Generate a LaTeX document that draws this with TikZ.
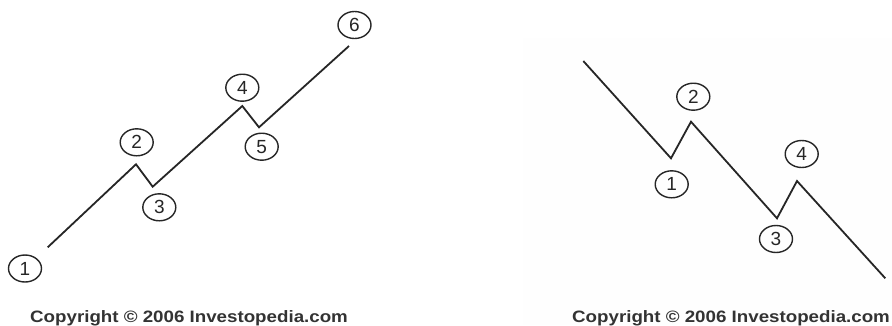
\documentclass[tikz,border=0pt]{standalone}
\usepackage{fontspec}
\setmainfont{Liberation Sans}
\usetikzlibrary{shapes.geometric}
\tikzset{
  wave/.style={line width=1.8pt, color=black!85, line join=miter},
  wavenum/.style={draw, ellipse, line width=1.4pt, color=black!85, minimum width=33pt, minimum height=27pt, inner sep=0pt, font=\fontsize{19}{19}\selectfont},
  copyr/.style={color=black!80, font=\fontsize{16.5}{16.5}\selectfont\bfseries, inner sep=0pt, anchor=base west}
}

\begin{document}
\begin{tikzpicture}[x=1pt, y=-1pt]
			%%%%% START %%%%%
			\useasboundingbox (0, 0) rectangle (892, 325);
			\fill[white] (0, 0) rectangle (892, 325);
			\fill[black!0.5] (523, 38) rectangle (892, 325);
			
			% up trend
			\coordinate (u1) at (47.7, 247.3);
			\coordinate (u2) at (136, 164.3);
			\coordinate (u3) at (152.7, 186.7);
			\coordinate (u4) at (242.3, 106);
			\coordinate (u5) at (259, 127.3);
			\coordinate (u6) at (349, 46);
			\draw[wave] (u1) -- (u2) -- (u3) -- (u4) -- (u5) -- (u6);
			
			\node[wavenum] (n1) at (25, 268.5) {1};
			\node[wavenum] (n2) at (136.7, 142.3) {2};
			\node[wavenum] (n3) at (159.3, 207.3) {3};
			\node[wavenum] (n4) at (242.3, 87.7) {4};
			\node[wavenum] (n5) at (261.7, 146.7) {5};
			\node[wavenum] (n6) at (354.5, 25) {6};
			
			\node[copyr] (cleft) at (30, 322.3) {\scalebox{1.135}[1]{Copyright © 2006 Investopedia.com}};
			
			% down trend
			\coordinate (d0) at (583.3, 61);
			\coordinate (d1) at (671, 158.3);
			\coordinate (d2) at (691, 121.7);
			\coordinate (d3) at (777, 218.3);
			\coordinate (d4) at (797, 181);
			\coordinate (d5) at (885.3, 278.3);
			\draw[wave] (d0) -- (d1) -- (d2) -- (d3) -- (d4) -- (d5);
			
			\node[wavenum] (m1) at (671.7, 184.3) {1};
			\node[wavenum] (m2) at (693.3, 96.7) {2};
			\node[wavenum] (m3) at (776, 239) {3};
			\node[wavenum] (m4) at (801.7, 154) {4};
			
			\node[copyr] (cright) at (572, 322.3) {\scalebox{1.135}[1]{Copyright © 2006 Investopedia.com}};
			%%%%% END %%%%%
		\end{tikzpicture}
\end{document}
